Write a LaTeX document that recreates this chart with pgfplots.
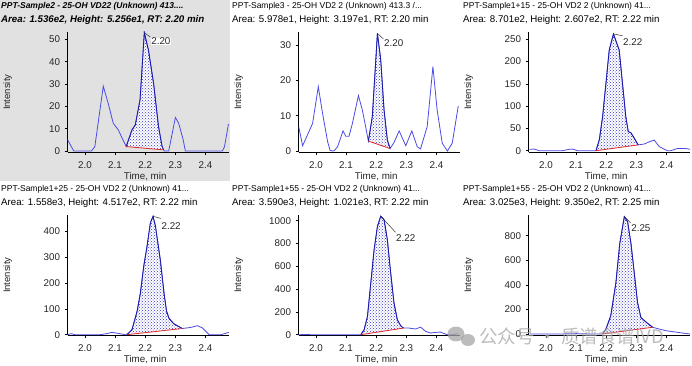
\documentclass[border=0pt]{standalone}
\usepackage{fontspec}
\setmainfont{Liberation Sans}
\newfontfamily\cjk{Noto Sans CJK SC}
\usepackage{pgfplots}
\pgfplotsset{compat=1.18}
\usetikzlibrary{patterns}
\definecolor{lineblue}{RGB}{75,75,230}
\definecolor{peakblue}{RGB}{25,25,165}
\definecolor{dotblue}{RGB}{50,50,200}
\definecolor{basered}{RGB}{225,40,40}
\definecolor{panelgray}{RGB}{225,225,225}
\tikzset{
  leader/.style={black!80, line width=0.5pt},
  rtlab/.style={anchor=west, inner sep=0.5pt, font=\fontsize{9.8}{11}\selectfont, text=black!85},
}
\pgfplotsset{
  panel/.style={
    scale only axis, width=161.5pt, height=120.5pt, anchor=south west,
    axis x line*=bottom, axis y line*=left,
    axis line style={black, line width=0.7pt},
    xmin=1.943, xmax=2.4785,
    xtick={2.0,2.1,2.2,2.3,2.4},
    tick align=outside, major tick length=3pt,
    tick style={black, line width=0.6pt},
    /pgf/number format/assume math mode=true,
    /pgf/number format/1000 sep={},
    xticklabel style={/pgf/number format/.cd, fixed, fixed zerofill, precision=1, /tikz/.cd, anchor=north, inner sep=0pt, yshift=-5.5pt},
    yticklabel style={anchor=east, inner sep=0pt, xshift=-4.5pt},
    tick label style={font=\fontsize{9.8}{11}\selectfont, text=black!85},
    xlabel={Time, min}, ylabel={Intensity},
    xlabel style={at={(axis description cs:0.48,-0.22)}, anchor=base, font=\fontsize{9.8}{11}\selectfont, text=black!85},
    ylabel style={at={(axis description cs:-0.372,0.5)}, anchor=center, font=\fontsize{9.5}{11}\selectfont, text=black!85},
    clip mode=individual,
  },
  curve/.style={lineblue, line width=0.8pt},
  pk/.style={peakblue, line width=0.8pt},
  pkfill/.style={draw=none, pattern=crosshatch dots, pattern color=dotblue},
  base/.style={basered, line width=0.8pt},
}
\newcommand{\ttlA}{\fontsize{8.5}{10}\selectfont}
\newcommand{\ttlB}{\fontsize{9.7}{11}\selectfont}
\begin{document}
\begin{tikzpicture}[x=1pt,y=1pt]
\path[use as bounding box] (0,0) rectangle (692,366);
\fill[white] (0,0) rectangle (692,366);
\fill[panelgray] (0,184.5) rectangle (229.5,366);

% ---------- Panel 1 ----------
\begin{axis}[panel, at={(67.7pt,213.5pt)}, ymin=-0.67, ymax=53.27, ytick={0,10,20,30,40,50}]
\addplot[draw=none, fill=white] coordinates {(2.137,2) (2.156,9.4) (2.167,11.6) (2.183,23) (2.197,53) (2.211,45) (2.228,30) (2.244,11) (2.256,2) (2.261,0.5)};
\addplot[pkfill] coordinates {(2.137,2) (2.156,9.4) (2.167,11.6) (2.183,23) (2.197,53) (2.211,45) (2.228,30) (2.244,11) (2.256,2) (2.261,0.5)};
\addplot[curve] coordinates {(1.942,5.2) (1.963,0) (2.022,0) (2.033,2) (2.061,29) (2.078,21) (2.094,12.4) (2.111,9.4) (2.126,5) (2.137,2) (2.156,9.4) (2.167,11.6) (2.183,23) (2.197,53) (2.211,45) (2.228,30) (2.244,11) (2.256,2) (2.263,0) (2.278,0) (2.3,15) (2.311,12.4) (2.326,5) (2.333,0) (2.456,0) (2.463,2) (2.476,12)};
\addplot[pk] coordinates {(2.137,2) (2.156,9.4) (2.167,11.6) (2.183,23) (2.197,53) (2.211,45) (2.228,30) (2.244,11) (2.256,2) (2.261,0.5)};
\addplot[base] coordinates {(2.137,2) (2.261,0.5)};
\draw[leader] (axis cs:2.197,53) -- (axis cs:2.217,51);
\node[rtlab, fill=white] at (axis cs:2.218,49) {2.20};
\end{axis}

% ---------- Panel 2 ----------
\begin{axis}[panel, at={(298.7pt,213.5pt)}, ymin=-0.42, ymax=33.69, ytick={0,10,20,30}]
\addplot[pkfill] coordinates {(2.174,2.8) (2.187,9.7) (2.204,33.3) (2.215,25.8) (2.226,11.6) (2.237,3.1) (2.246,0.7)};
\addplot[curve] coordinates {(1.943,6.9) (1.956,1.5) (1.989,7.8) (2.008,18.2) (2.022,10.7) (2.039,2.6) (2.047,0.2) (2.055,0) (2.061,0.1) (2.072,1.2) (2.09,5.7) (2.099,4.2) (2.11,4.2) (2.121,7.8) (2.141,15.7) (2.154,11.6) (2.165,6.9) (2.174,2.8) (2.187,9.7) (2.204,33.3) (2.215,25.8) (2.226,11.6) (2.237,3.1) (2.246,0.7) (2.259,2.4) (2.276,5.7) (2.298,1.5) (2.318,5.7) (2.336,1.2) (2.347,0.6) (2.369,6.9) (2.388,23.9) (2.402,11.6) (2.419,2.2) (2.436,0) (2.452,2.2) (2.472,12.7)};
\addplot[pk] coordinates {(2.174,2.8) (2.187,9.7) (2.204,33.3) (2.215,25.8) (2.226,11.6) (2.237,3.1) (2.246,0.7)};
\addplot[base] coordinates {(2.174,2.8) (2.246,0.7)};
\draw[leader] (axis cs:2.204,33.3) -- (axis cs:2.224,31.7);
\node[rtlab] at (axis cs:2.224,30.5) {2.20};
\end{axis}

% ---------- Panel 3 ----------
\begin{axis}[panel, at={(528.7pt,213.5pt)}, ymin=-4.04, ymax=266.4, ytick={0,50,100,150,200,250}]
\addplot[pkfill] coordinates {(2.166,0) (2.177,24) (2.188,76) (2.199,151) (2.21,226) (2.224,262) (2.243,226) (2.254,151) (2.265,76) (2.273,43) (2.282,40) (2.293,28) (2.306,13)};
\addplot[curve] coordinates {(1.945,3) (1.961,3.7) (1.978,0) (2.055,0) (2.077,3) (2.088,3.7) (2.105,0) (2.166,0) (2.177,24) (2.188,76) (2.199,151) (2.21,226) (2.224,262) (2.243,226) (2.254,151) (2.265,76) (2.273,43) (2.282,40) (2.293,28) (2.306,13) (2.326,15) (2.343,20) (2.359,24) (2.376,9) (2.403,0) (2.414,0) (2.436,5) (2.464,5) (2.478,3)};
\addplot[pk] coordinates {(2.166,0) (2.177,24) (2.188,76) (2.199,151) (2.21,226) (2.224,262) (2.243,226) (2.254,151) (2.265,76) (2.273,43) (2.282,40) (2.293,28) (2.306,13)};
\addplot[base] coordinates {(2.166,0) (2.306,13)};
\draw[leader] (axis cs:2.224,262) -- (axis cs:2.254,258);
\node[rtlab] at (axis cs:2.254,244) {2.22};
\end{axis}

% ---------- Panel 4 ----------
\begin{axis}[panel, at={(67.7pt,30.5pt)}, ymin=-3.1, ymax=463.1, ytick={0,100,200,300,400}]
\addplot[pkfill] coordinates {(2.139,0) (2.156,19) (2.173,90) (2.184,161) (2.195,264) (2.206,342) (2.217,432) (2.226,458) (2.234,420) (2.25,290) (2.263,155) (2.271,90) (2.279,63) (2.295,42) (2.323,24)};
\addplot[curve] coordinates {(1.942,0) (1.955,4) (1.967,0) (2.05,0) (2.072,4) (2.089,9) (2.106,6) (2.134,0) (2.139,0) (2.156,19) (2.173,90) (2.184,161) (2.195,264) (2.206,342) (2.217,432) (2.226,458) (2.234,420) (2.25,290) (2.263,155) (2.271,90) (2.279,63) (2.295,42) (2.323,24) (2.351,28) (2.373,35) (2.39,26) (2.412,0) (2.451,0) (2.477,9)};
\addplot[pk] coordinates {(2.139,0) (2.156,19) (2.173,90) (2.184,161) (2.195,264) (2.206,342) (2.217,432) (2.226,458) (2.234,420) (2.25,290) (2.263,155) (2.271,90) (2.279,63) (2.295,42) (2.323,24)};
\addplot[base] coordinates {(2.139,0) (2.323,24)};
\draw[leader] (axis cs:2.226,458) -- (axis cs:2.252,450);
\node[rtlab] at (axis cs:2.252,422) {2.22};
\end{axis}

% ---------- Panel 5 ----------
\begin{axis}[panel, at={(298.7pt,30.5pt)}, ymin=-7, ymax=1050, ytick={0,200,400,600,800,1000}]
\addplot[pkfill] coordinates {(2.149,0) (2.16,44) (2.171,161) (2.182,453) (2.193,746) (2.204,950) (2.215,1040) (2.226,1009) (2.237,833) (2.248,541) (2.259,278) (2.27,132) (2.281,79) (2.29,58)};
\addplot[curve] coordinates {(1.943,0) (1.972,2) (1.983,0) (2.138,0) (2.149,0) (2.16,44) (2.171,161) (2.182,453) (2.193,746) (2.204,950) (2.215,1040) (2.226,1009) (2.237,833) (2.248,541) (2.259,278) (2.27,132) (2.281,79) (2.29,58) (2.309,58) (2.331,50) (2.347,67) (2.364,29) (2.38,15) (2.397,20) (2.413,23) (2.435,0) (2.452,0) (2.472,9)};
\addplot[pk] coordinates {(2.149,0) (2.16,44) (2.171,161) (2.182,453) (2.193,746) (2.204,950) (2.215,1040) (2.226,1009) (2.237,833) (2.248,541) (2.259,278) (2.27,132) (2.281,79) (2.29,58)};
\addplot[base] coordinates {(2.149,0) (2.29,58)};
\draw[leader] (axis cs:2.215,1040) -- (axis cs:2.264,898);
\node[rtlab] at (axis cs:2.264,851) {2.22};
\end{axis}

% ---------- Panel 6 ----------
\begin{axis}[panel, at={(528.7pt,30.5pt)}, ymin=-12.2, ymax=968.3, ytick={0,200,400,600,800}]
\addplot[pkfill] coordinates {(2.188,0) (2.199,40) (2.215,148) (2.232,416) (2.245,738) (2.26,955) (2.271,913) (2.282,738) (2.293,497) (2.304,255) (2.315,134) (2.331,99) (2.354,55)};
\addplot[curve] coordinates {(1.945,0) (2.05,0) (2.1,3) (2.15,0) (2.188,0) (2.199,40) (2.215,148) (2.232,416) (2.245,738) (2.26,955) (2.271,913) (2.282,738) (2.293,497) (2.304,255) (2.315,134) (2.331,99) (2.354,55) (2.376,40) (2.398,27) (2.42,19) (2.453,8) (2.478,0)};
\addplot[pk] coordinates {(2.188,0) (2.199,40) (2.215,148) (2.232,416) (2.245,738) (2.26,955) (2.271,913) (2.282,738) (2.293,497) (2.304,255) (2.315,134) (2.331,99) (2.354,55)};
\addplot[base] coordinates {(2.188,0) (2.354,55)};
\draw[leader] (axis cs:2.26,955) -- (axis cs:2.281,905);
\node[rtlab] at (axis cs:2.281,864) {2.25};
\end{axis}

% ---------- Titles ----------
\node[anchor=base west, inner sep=0pt, font=\ttlA\bfseries\itshape] at (1,357) {PPT-Sample2 - 25-OH VD22 (Unknown) 413....};
\node[anchor=base west, inner sep=0pt, font=\ttlB\bfseries\itshape] at (1,343) {Area: 1.536e2, Height: 5.256e1, RT: 2.20 min};
\node[anchor=base west, inner sep=0pt, font=\ttlA] at (232,357) {PPT-Sample3 - 25-OH VD2 2 (Unknown) 413.3 /...};
\node[anchor=base west, inner sep=0pt, font=\ttlB] at (232,343) {Area: 5.978e1, Height: 3.197e1, RT: 2.20 min};
\node[anchor=base west, inner sep=0pt, font=\ttlA] at (463,357) {PPT-Sample1+15 - 25-OH VD2 2 (Unknown) 41...};
\node[anchor=base west, inner sep=0pt, font=\ttlB] at (463,343) {Area: 8.701e2, Height: 2.607e2, RT: 2.22 min};
\node[anchor=base west, inner sep=0pt, font=\ttlA] at (1,174) {PPT-Sample1+25 - 25-OH VD2 2 (Unknown) 41...};
\node[anchor=base west, inner sep=0pt, font=\ttlB] at (1,160) {Area: 1.558e3, Height: 4.517e2, RT: 2.22 min};
\node[anchor=base west, inner sep=0pt, font=\ttlA] at (232,174) {PPT-Sample1+55 - 25-OH VD2 2 (Unknown) 41...};
\node[anchor=base west, inner sep=0pt, font=\ttlB] at (232,160) {Area: 3.590e3, Height: 1.021e3, RT: 2.22 min};
\node[anchor=base west, inner sep=0pt, font=\ttlA] at (463,174) {PPT-Sample1+55 - 25-OH VD2 2 (Unknown) 41...};
\node[anchor=base west, inner sep=0pt, font=\ttlB] at (463,160) {Area: 3.025e3, Height: 9.350e2, RT: 2.25 min};

% ---------- Watermark ----------
\begin{scope}[opacity=0.75]
\fill[black!35] (456,32) ellipse (8.5 and 7.5);
\fill[black!35] (468,26) ellipse (7 and 6);
\node[anchor=base west, inner sep=0pt, font=\cjk\fontsize{18.5}{20}\selectfont, text=black!35] at (479,22.5) {公众号 · 质谱食谱IVD};
\end{scope}
\end{tikzpicture}
\end{document}
